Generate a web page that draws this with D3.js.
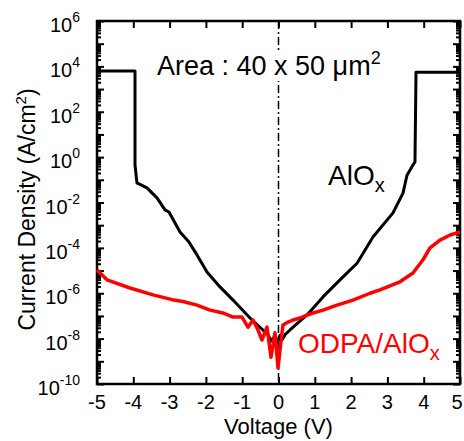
<!DOCTYPE html>
<html>
<head>
<meta charset="utf-8">
<script src="https://cdn.jsdelivr.net/npm/d3@7"></script>
<style>
  body { margin: 0; background: #fff; }
  svg { font-family: "Liberation Sans", Arial, sans-serif; }
</style>
</head>
<body>
<svg id="chart" width="464" height="441"></svg>
<script>
// J-V curves
const voltsAlOx = [-5, -3.953, -3.953, -3.898, -3.843, -3.623, -3.347, -3.127, -3.017, -2.713, -2.466, -2.245,
  -1.970, -1.612, -1.253, -0.785, -0.427, -0.30, -0.20, -0.10, -0.02, 0.04, 0.10, 0.18, 0.317, 0.785, 1.226,
  1.694, 2.163, 2.603, 3.154, 3.430, 3.540, 3.705, 3.760, 3.788, 5];
const currentAlOx = [6.3e3, 6.3e3, 4.5e-1, 7.2e-2, 6.6e-2, 4.4e-2, 1.6e-2, 4.7e-3, 3.8e-3, 5.0e-4, 1.8e-4, 4.9e-5,
  8.7e-6, 1.9e-6, 5.0e-7, 8.1e-8, 2.4e-8, 1.6e-8, 7.9e-9, 1.3e-8, 6.3e-9, 1.4e-8, 9e-9, 1.5e-8, 2.4e-8, 1.1e-7, 6.9e-7,
  3.9e-6, 2.1e-5, 3.0e-4, 3.5e-3, 2.6e-2, 1.6e-1, 4.5e-1, 6.2e-1, 5.5e3, 5.5e3];

const voltsODPA = [-5, -4.725, -4.091, -3.430, -2.879, -2.603, -2.245, -1.887, -1.529, -1.253, -1.006, -0.840,
  -0.702, -0.565, -0.455, -0.317, -0.207, -0.096, -0.014, 0.096, 0.124, 0.262, 0.399, 0.592, 0.785, 0.950,
  1.226, 1.612, 2.052, 2.521, 2.796, 3.347, 3.705, 3.981, 4.174, 4.449, 4.725, 5];
const currentODPA = [1.07e-5, 3.9e-6, 1.7e-6, 8.3e-7, 5.0e-7, 4.2e-7, 3.0e-7, 1.8e-7, 1.35e-7, 8.9e-8, 8.9e-8, 3.2e-8,
  6.6e-8, 2.4e-8, 8.7e-9, 3.2e-8, 1.5e-9, 1.8e-8, 5.1e-10, 1.8e-8, 4.0e-8, 5.4e-8, 6.6e-8, 8.1e-8, 1.1e-7, 1.35e-7,
  1.8e-7, 3.0e-7, 5.0e-7, 1.0e-6, 1.4e-6, 3.2e-6, 7.8e-6, 3.0e-5, 1.0e-4, 2.2e-4, 3.7e-4, 5.0e-4];

const xTicks = [-5, -4, -3, -2, -1, 0, 1, 2, 3, 4, 5];
const yLabelExponents = [6, 4, 2, 0, -2, -4, -6, -8, -10];

const svg = d3.select('#chart');
const pLeft = 97, pRight = 460, pTop = 21, pBottom = 384;

const x = d3.scaleLinear().domain([-5, 5]).range([pLeft, pRight]);
const y = d3.scaleLog().domain([1e-10, 1e6]).range([pBottom, pTop]);

// decade + minor ticks
const decades = d3.range(-10, 7).map(e => Math.pow(10, e));
const minors = [];
for (let e = -10; e < 6; e++) for (let m = 2; m <= 9; m++) minors.push(m * Math.pow(10, e));

function tickAxis(axis, tr) {
  const g = svg.append('g').attr('transform', tr).call(axis);
  g.select('.domain').remove();
  g.selectAll('.tick line').attr('stroke', '#000').attr('stroke-width', 2);
  g.selectAll('.tick text').remove();
  return g;
}

tickAxis(d3.axisLeft(y).tickValues(minors).tickSize(-4), `translate(${pLeft},0)`);
tickAxis(d3.axisLeft(y).tickValues(decades).tickSize(-7), `translate(${pLeft},0)`);
tickAxis(d3.axisRight(y).tickValues(minors).tickSize(-4), `translate(${pRight},0)`);
tickAxis(d3.axisRight(y).tickValues(decades).tickSize(-7), `translate(${pRight},0)`);
tickAxis(d3.axisBottom(x).tickValues(xTicks).tickSize(-7), `translate(0,${pBottom})`);
tickAxis(d3.axisTop(x).tickValues(xTicks).tickSize(-7), `translate(0,${pTop})`);

// x tick labels (last one nudged so it stays inside the page)
svg.append('g').selectAll('text').data(xTicks).join('text')
  .attr('x', d => d === 5 ? x(d) - 3 : x(d)).attr('y', pBottom + 25)
  .attr('text-anchor', 'middle').attr('font-size', 20)
  .text(d => d);

// y tick labels 10^n
const yl = svg.append('g').selectAll('text').data(yLabelExponents).join('text')
  .attr('x', 80).attr('y', d => y(Math.pow(10, d)) + 11)
  .attr('text-anchor', 'end').attr('font-size', 20);
yl.append('tspan').text('10');
yl.append('tspan').attr('font-size', 14).attr('dy', -10).text(d => d);

// frame
svg.append('rect').attr('x', pLeft).attr('y', pTop)
  .attr('width', pRight - pLeft).attr('height', pBottom - pTop)
  .attr('fill', 'none').attr('stroke', '#000').attr('stroke-width', 2.5);

// dash-dot line at 0 V
svg.append('line')
  .attr('x1', x(0)).attr('x2', x(0)).attr('y1', pTop).attr('y2', pBottom)
  .attr('stroke', '#000').attr('stroke-width', 1.5)
  .attr('stroke-dasharray', '8,3,2,3');

const line = d3.line().x(d => x(d[0])).y(d => y(d[1]));

svg.append('path')
  .datum(d3.zip(voltsAlOx, currentAlOx))
  .attr('d', line).attr('fill', 'none')
  .attr('stroke', '#000').attr('stroke-width', 3).attr('stroke-linejoin', 'round');

svg.append('path')
  .datum(d3.zip(voltsODPA, currentODPA))
  .attr('d', line).attr('fill', 'none')
  .attr('stroke', '#ff0000').attr('stroke-width', 3.5).attr('stroke-linejoin', 'round');

// titles
svg.append('text').attr('x', (pLeft + pRight) / 2).attr('y', 434)
  .attr('text-anchor', 'middle').attr('font-size', 22).text('Voltage (V)');

const yt = svg.append('text')
  .attr('transform', `translate(35,${(pTop + pBottom) / 2 + 7}) rotate(-90)`)
  .attr('text-anchor', 'middle').attr('font-size', 23);
yt.append('tspan').text('Current Density (A/cm');
yt.append('tspan').attr('font-size', 15).attr('dy', -9).text('2');
yt.append('tspan').attr('dy', 9).text(')');

// area note sits on a white patch so the 0 V line is hidden behind it
const areaBg = svg.append('rect').attr('fill', '#fff');
const area = svg.append('text').attr('x', 157).attr('y', 75).attr('font-size', 27);
area.append('tspan').text('Area : 40 x 50 \u03BCm');
area.append('tspan').attr('font-size', 18).attr('dy', -11).text('2');
const bb = area.node().getBBox();
areaBg.attr('x', bb.x).attr('y', bb.y + 2).attr('width', bb.width).attr('height', bb.height - 2);

const l1 = svg.append('text').attr('x', 328).attr('y', 185).attr('font-size', 28).attr('fill', '#000');
l1.append('tspan').text('AlO');
l1.append('tspan').attr('font-size', 20).attr('dy', 7).text('x');

const l2 = svg.append('text').attr('x', 298).attr('y', 353).attr('font-size', 28).attr('fill', '#ff0000');
l2.append('tspan').text('ODPA/AlO');
l2.append('tspan').attr('font-size', 20).attr('dy', 7).text('x');
</script>
</body>
</html>
